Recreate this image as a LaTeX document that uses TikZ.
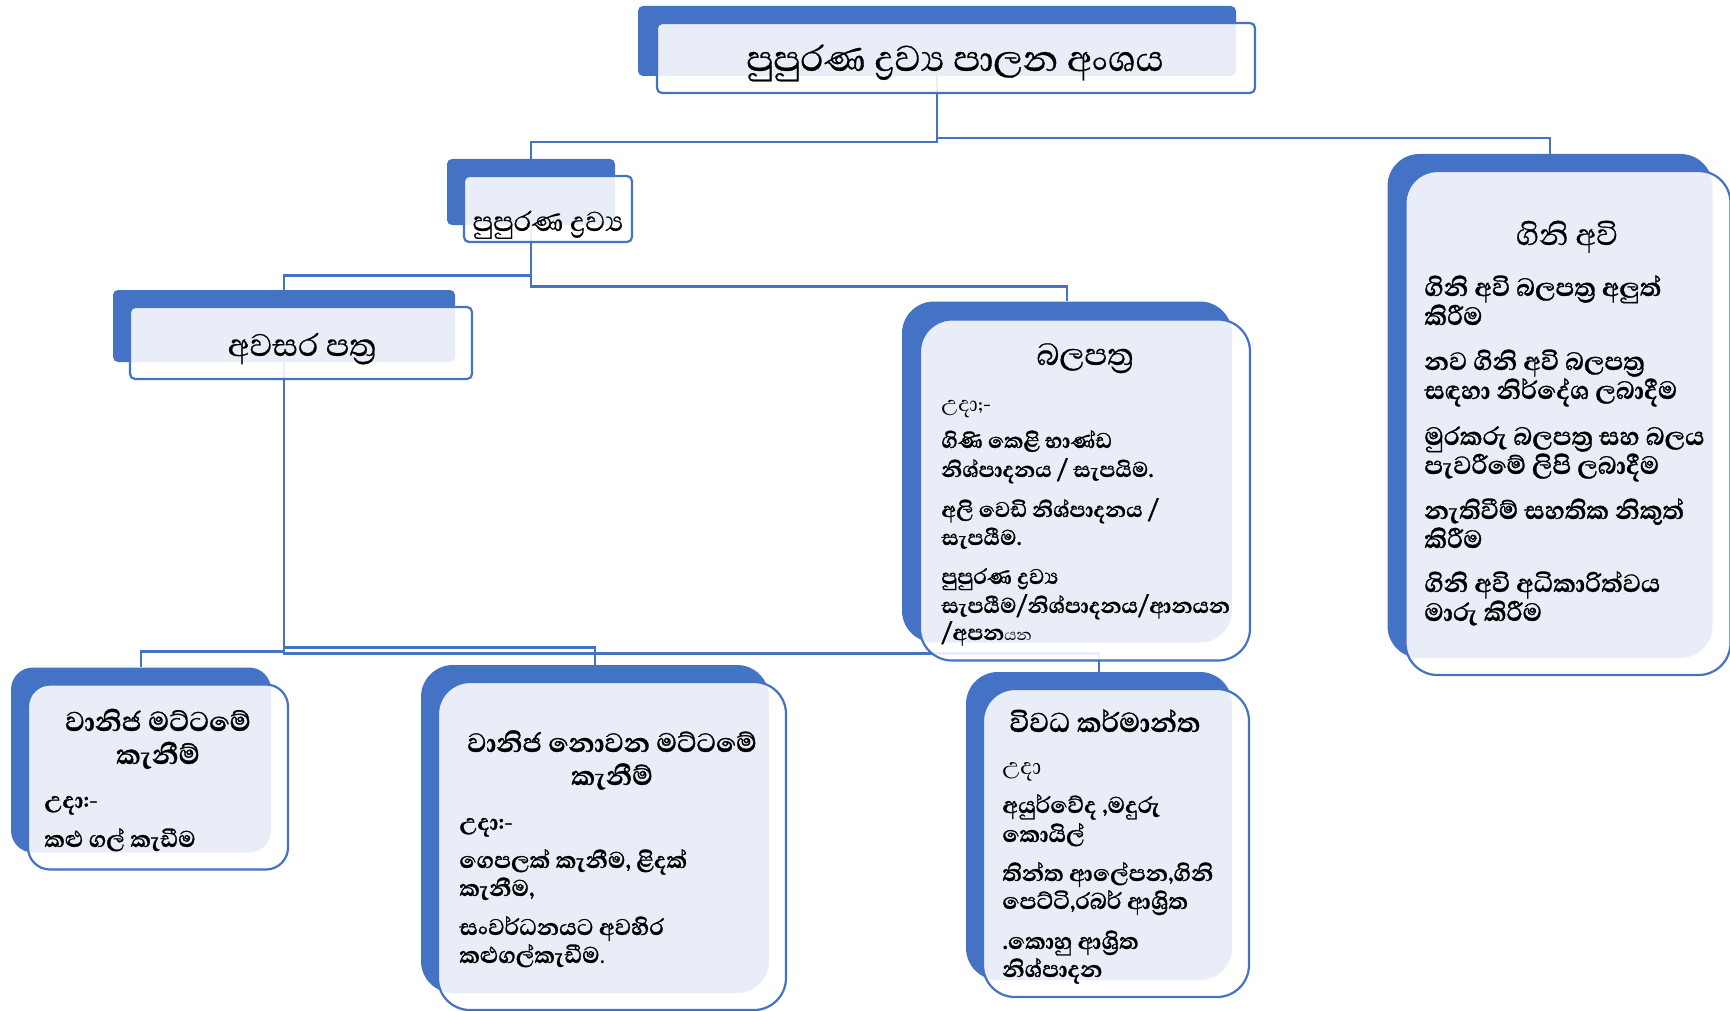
\documentclass[tikz,border=0pt]{standalone}
\usepackage{fontspec}
\newfontfamily\sinhfont[Script=Sinhala, BoldFeatures={FakeBold=1}]{Abhaya Libre}
\newfontfamily\sinhhead[Script=Sinhala, FakeBold=0.6]{Abhaya Libre}
\usepackage{tikz}
\definecolor{accent}{HTML}{4472C4}
\tikzstyle{dark box}=[fill=accent, shape=rectangle, inner sep=0pt]
\tikzstyle{light box}=[fill=white, fill opacity=0.88, draw=accent, line width=1.1pt, shape=rectangle, inner sep=0pt]
\tikzstyle{blue edge}=[-, draw=accent, line width=1.1pt]
\tikzstyle{head}=[font=\sinhhead, inner sep=0pt, anchor=base]
\tikzstyle{item}=[font=\sinhfont\bfseries\fontsize{14.5}{17}\selectfont, inner sep=0pt, anchor=base west]
\pgfdeclarelayer{nodelayer}
\pgfdeclarelayer{edgelayer}
\pgfsetlayers{edgelayer,nodelayer,main}

\begin{document}
\begin{tikzpicture}[x=0.5pt, y=-0.5pt]
	\useasboundingbox (0,0) rectangle (1730,1011);
	\begin{pgfonlayer}{nodelayer}
		% back plates
		\node [style=dark box, rounded corners=2.5pt, minimum width=299pt, minimum height=35pt] (topB) at (937,41) {};
		\node [style=dark box, rounded corners=2.5pt, minimum width=84pt, minimum height=33pt] (drvB) at (531,192) {};
		\node [style=dark box, rounded corners=2.5pt, minimum width=171pt, minimum height=36pt] (avsB) at (284,326) {};
		\node [style=dark box, rounded corners=16pt, minimum width=165pt, minimum height=170.5pt] (blpB) at (1067,472) {};
		\node [style=dark box, rounded corners=16pt, minimum width=162.5pt, minimum height=252pt] (gnaB) at (1550,406) {};
		\node [style=dark box, rounded corners=11pt, minimum width=130pt, minimum height=92.5pt] (vnjB) at (141,760) {};
		\node [style=dark box, rounded corners=16pt, minimum width=174pt, minimum height=164pt] (nvnB) at (595,829) {};
		\node [style=dark box, rounded corners=16pt, minimum width=133pt, minimum height=154pt] (vvdB) at (1099,826) {};
		% front cards
		\node [style=light box, rounded corners=2.5pt, minimum width=299pt, minimum height=35pt] (topF) at (956,58) {};
		\node [style=light box, rounded corners=2.5pt, minimum width=84pt, minimum height=33pt] (drvF) at (548,209) {};
		\node [style=light box, rounded corners=2.5pt, minimum width=171pt, minimum height=36pt] (avsF) at (301,343) {};
		\node [style=light box, rounded corners=16pt, minimum width=165pt, minimum height=170.5pt] (blpF) at (1085,490) {};
		\node [style=light box, rounded corners=16pt, minimum width=162.5pt, minimum height=252pt] (gnaF) at (1568,423) {};
		\node [style=light box, rounded corners=11pt, minimum width=130pt, minimum height=92.5pt] (vnjF) at (158,777) {};
		\node [style=light box, rounded corners=16pt, minimum width=174pt, minimum height=164pt] (nvnF) at (612,846) {};
		\node [style=light box, rounded corners=16pt, minimum width=133pt, minimum height=154pt] (vvdF) at (1116,843) {};
	\end{pgfonlayer}
	\begin{pgfonlayer}{edgelayer}
		\draw [style=blue edge] (topB.south) -- ++(0,66) -| (drvB.north);
		\draw [style=blue edge] (topB.south) -- ++(0,62) -| (gnaB.north);
		\draw [style=blue edge] (drvB.south) -- ++(0,50) -| (avsB.north);
		\draw [style=blue edge] (drvB.south) -- ++(0,61) -| (blpB.north);
		\draw [style=blue edge] (avsB.south) -- ++(0,289) -| (vnjB.north);
		\draw [style=blue edge] (avsB.south) -- ++(0,285) -| (nvnB.north);
		\draw [style=blue edge] (avsB.south) -- ++(0,291) -| (vvdB.north);
	\end{pgfonlayer}
	% headings
	\node [style=head, font=\sinhhead\fontsize{23}{27}\selectfont] (topT) at (955,71) {පුපුරණ ද්^^^^200dරව්^^^^200dය පාලන අංශය};
	\node [style=head, font=\sinhhead\fontsize{17.5}{21}\selectfont] (drvT) at (548,231) {පුපුරණ ද්^^^^200dරව්^^^^200dය};
	\node [style=head, font=\sinhhead\fontsize{20}{24}\selectfont] (avsT) at (302,356) {අවසර පත්^^^^200dර};
	\node [style=head, font=\sinhhead\fontsize{19.5}{23}\selectfont] (blpT) at (1085,365) {බලපත්^^^^200dර};
	\node [style=head, font=\sinhhead\fontsize{19}{23}\selectfont] (gnaT) at (1567,245) {ගිනි අවි};
	\node [style=head, font=\sinhfont\bfseries\fontsize{17.4}{21}\selectfont] (vnjT1) at (158,731) {වානිජ මට්ටමේ};
	\node [style=head, font=\sinhfont\bfseries\fontsize{17.4}{21}\selectfont] (vnjT2) at (158,764) {කැනීම්};
	\node [style=head, font=\sinhfont\bfseries\fontsize{17}{21}\selectfont] (nvnT1) at (612,752) {වානිජ නොවන මට්ටමේ};
	\node [style=head, font=\sinhfont\bfseries\fontsize{17}{21}\selectfont] (nvnT2) at (612,785) {කැනීම්};
	\node [style=head, font=\sinhfont\bfseries\fontsize{17.4}{21}\selectfont] (vvdT) at (1105,732) {විවධ කර්මාන්ත};
	% card lines
	\foreach \yy/\tx [count=\i] in {411/{\mdseries උදා;-}, 448/{ගිණි කෙළි භාණ්ඩ}, 477/{නිශ්පාදනය / සැපයිම.}, 517/{අලි වෙඩි නිශ්පාදනය /}, 545/{සැපයීම.}, 584/{පුපුරණ ද්^^^^200dරව්^^^^200dය}, 613/{සැපයීම/නිශ්පාදනය/ආනයන}, 640/{/අපන{\mdseries\fontsize{10}{11}\selectfont යන}}}
		\node [style=item, font=\sinhfont\bfseries\fontsize{13.6}{17}\selectfont] (blp\i) at (941,\yy) {\tx};
	\foreach \yy/\tx [count=\i] in {296/{ගිනි අවි බලපත්^^^^200dර අලුත්}, 325/{කිරීම}, 370/{නව ගිනි අවි බලපත්^^^^200dර}, 399/{සඳහා නිර්දේශ ලබාදීම}, 445/{මුරකරු බලපත්^^^^200dර සහ බලය}, 474/{පැවරීමේ ලිපි ලබාදීම}, 519/{නැතිවීම් සහතික නිකුත්}, 548/{කිරීම}, 592/{ගිනි අවි අධිකාරිත්වය}, 621/{මාරු කිරීම}}
		\node [style=item, font=\sinhfont\bfseries\fontsize{16}{19}\selectfont] (gna\i) at (1424,\yy) {\tx};
	\foreach \yy/\tx [count=\i] in {808/{උදා:-}, 847/{කළු ගල් කැඩීම}}
		\node [style=item] (vnj\i) at (44,\yy) {\tx};
	\foreach \yy/\tx [count=\i] in {830/{උදා:-}, 868/{ගෙපලක් කැනීම, ළිදක්}, 896/{කැනීම,}, 935/{සංවර්ධනයට අවහිර}, 963/{කළුගල්කැඩීම{\mdseries .}}}
		\node [style=item] (nvn\i) at (459,\yy) {\tx};
	\foreach \yy/\tx [count=\i] in {774/{\mdseries උදා}, 813/{අයුර්වේද ,මදුරු}, 842/{කොයිල්}, 881/{තින්ත ආලේපන,ගිනි}, 909/{පෙට්ටි,රබර් ආශ්^^^^200dරිත}, 949/{.කොහු ආශ්^^^^200dරිත}, 977/{නිශ්පාදන}}
		\node [style=item] (vvd\i) at (1002,\yy) {\tx};
\end{tikzpicture}
\end{document}
